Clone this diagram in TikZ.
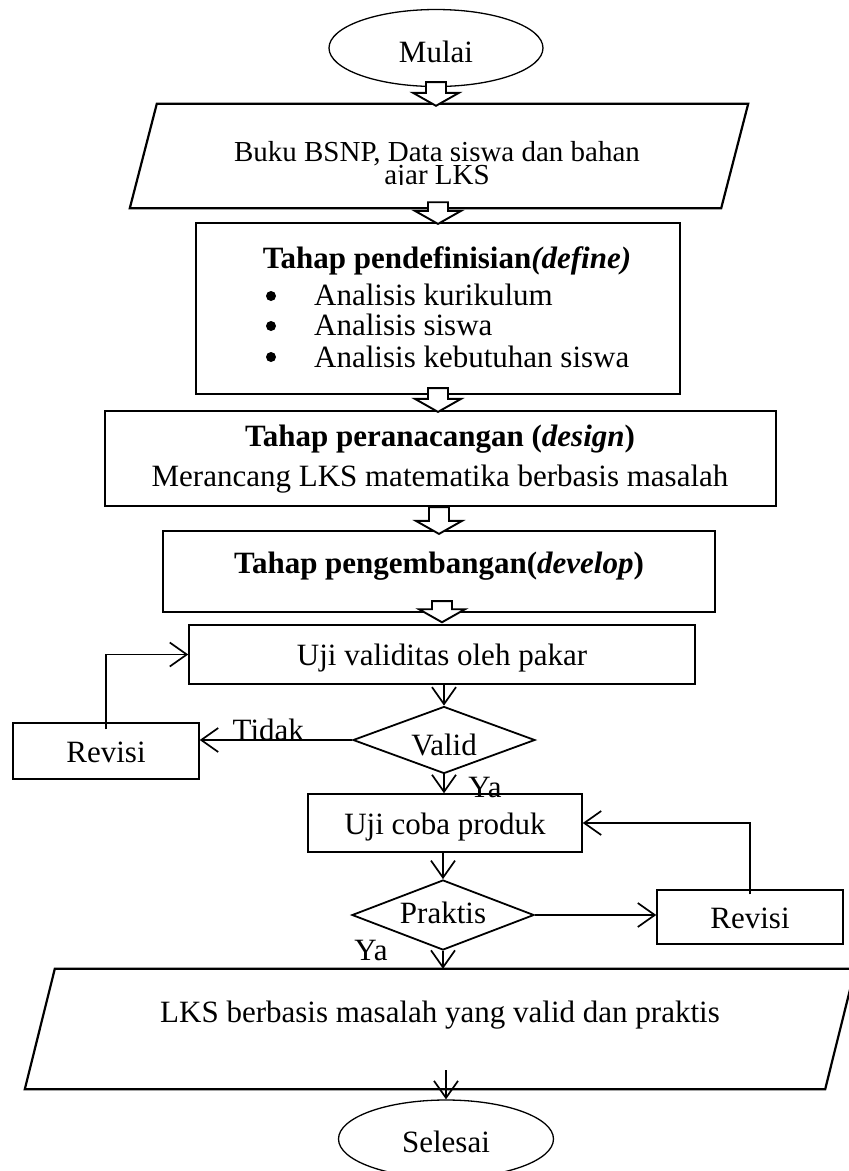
\documentclass[tikz,border=0pt]{standalone}
\usepackage{fontspec}
\setmainfont{Liberation Serif}
\usetikzlibrary{shapes.geometric,arrows.meta,calc}
\newcommand\fsz{\fontsize{31pt}{31pt}\selectfont}
\newcommand\fszs{\fontsize{29pt}{22pt}\selectfont}
\tikzset{
  box/.style={draw, rectangle, line width=1.5pt, inner sep=0pt, text height=22pt, text depth=0pt},
  tbox/.style={draw, rectangle, line width=2.2pt, inner sep=0pt},
  ell/.style={draw, ellipse, line width=1.3pt, inner sep=0pt, minimum width=214pt, minimum height=77pt},
  dia/.style={draw, diamond, line width=1.8pt, inner sep=0pt, minimum width=182pt, aspect=2.7},
  pframe/.style={rectangle, inner sep=0pt},
  pline/.style={line width=2.2pt, line join=miter},
  arr/.style={line width=1.7pt, -{Straight Barb[length=17pt,width=24pt]}},
  blk/.style={draw, line width=1.9pt, fill=white, line join=miter},
  txt/.style={inner sep=0pt, anchor=base},
  dot/.style={circle, fill, inner sep=0pt, minimum size=10pt},
}
\newcommand\blkarrow[2]{\path[blk] let \p1=(#1), \p2=(#2) in
  (\x1-10pt,\y1) -- (\x1-10pt,\y2+13pt) -- (\x1-23pt,\y2+13pt) -- (\x1,\y2)
  -- (\x1+23pt,\y2+13pt) -- (\x1+10pt,\y2+13pt) -- (\x1+10pt,\y1) -- cycle;}
\begin{document}
\begin{tikzpicture}[x=1pt,y=-1pt,font=\fsz]
\useasboundingbox (0,0) rectangle (849,1171);

% nodes
\node[ell, text height=28pt, text depth=0pt] (mulai) at (436,48) {Mulai};

\node[pframe, minimum width=618pt, minimum height=104pt] (p1) at (439,156) {};
\draw[pline] ([xshift=27pt]p1.north west) -- (p1.north east)
  -- ([xshift=-27pt]p1.south east) -- (p1.south west) -- cycle;
\begin{scope}
  \clip (100,100) rectangle (760,184.5);
  \node[txt, font=\fszs] (p1a) at (437,161) {Buku BSNP, Data siswa dan bahan};
  \node[txt, font=\fszs] (p1b) at (437,184) {ajar LKS};
\end{scope}

\node[tbox, minimum width=484pt, minimum height=171pt] (def) at (438,308.5) {};
\node[txt, font=\fsz\bfseries] (deft) at (447,268) {Tahap pendefinisian\textit{(define)}};
\node[dot] (b1) at (271,296) {};
\node[dot] (b2) at (271,326) {};
\node[dot] (b3) at (271,357) {};
\node[txt, anchor=base west] (d1) at (314,305) {Analisis kurikulum};
\node[txt, anchor=base west] (d2) at (314,335) {Analisis siswa};
\node[txt, anchor=base west] (d3) at (314,367) {Analisis kebutuhan siswa};

\node[tbox, minimum width=671pt, minimum height=95pt] (des) at (440.5,458.5) {};
\node[txt, font=\fsz\bfseries] (dest) at (440,446) {Tahap peranacangan (\textit{design})};
\node[txt] (desm) at (440,486) {Merancang LKS matematika berbasis masalah};

\node[tbox, minimum width=552pt, minimum height=81pt, text height=22pt, text depth=19pt,
      font=\fsz\bfseries] (dev) at (439,571.5) {Tahap pengembangan(\textit{develop})};

\node[box, minimum width=506pt, minimum height=59pt] (uji) at (442,654.5) {Uji validitas oleh pakar};
\node[dia, minimum height=67pt, text height=30pt, text depth=0pt] (valid) at (444,740) {Valid};
\node[box, minimum width=186pt, minimum height=56pt] (rev1) at (106,751) {Revisi};
\node[box, minimum width=274pt, minimum height=58pt] (uc) at (445,823) {Uji coba produk};
\node[dia, minimum height=70pt, text height=22pt, text depth=6pt] (prak) at (443,915) {Praktis};
\node[box, minimum width=186pt, minimum height=54pt] (rev2) at (750,917) {Revisi};

\node[pframe, minimum width=830pt, minimum height=120pt, text height=22pt, text depth=36pt]
      (p2) at (440,1029) {LKS berbasis masalah yang valid dan praktis};
\draw[pline] ([xshift=30pt]p2.north west) -- (p2.north east)
  -- ([xshift=-30pt]p2.south east) -- (p2.south west) -- cycle;

\node[ell, minimum width=215pt, minimum height=78pt, text height=26pt, text depth=0pt] (sel) at (446,1139) {Selesai};

% block arrows
\blkarrow{[yshift=5pt]mulai.south}{[yshift=-2pt]mulai.south |- p1.north}
\blkarrow{[yshift=6pt]def.north |- p1.south}{[yshift=-2pt]def.north}
\blkarrow{[yshift=7pt]def.south}{[yshift=-2pt]def.south |- des.north}
\blkarrow{dev.north |- des.south}{[yshift=-4pt]dev.north}
\blkarrow{[yshift=12pt]uji.north |- dev.south}{[yshift=2pt]uji.north}

% connectors
\draw[arr] (valid.north |- uji.south) -- (valid.north);
\draw[arr] (valid.west) -- node[txt, pos=0.55] (tidak) {Tidak} (valid.west -| rev1.east);
\draw[arr] ([yshift=-7pt]rev1.north) |- (uji.west);
\draw[arr] (valid.south) -- (valid.south |- uc.north);
\node[txt] (ya1) at (485,797) {Ya};
\draw[arr] (prak.north |- uc.south) -- (prak.north);
\draw[arr] (prak.east) -- (prak.east -| rev2.west);
\draw[arr] ([yshift=-5pt]rev2.north) |- (uc.east);
\draw[arr] (prak.south) -- (prak.south |- p2.north);
\node[txt] (ya2) at (371,960) {Ya};
\draw[arr] ($(sel.north |- p2.south)+(0,-19)$) -- (sel.north);
\end{tikzpicture}
\end{document}
